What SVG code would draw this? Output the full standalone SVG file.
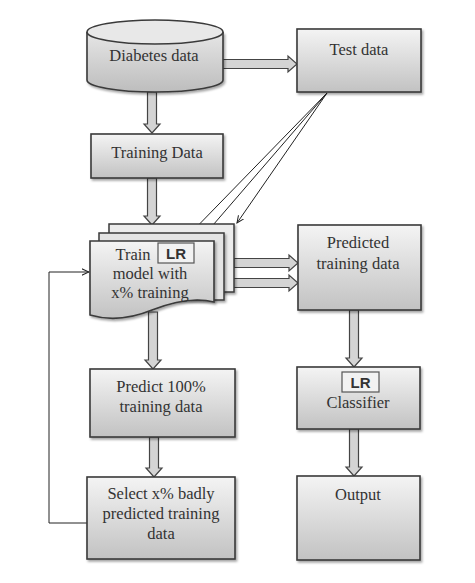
<svg xmlns="http://www.w3.org/2000/svg" width="475" height="583" viewBox="0 0 475 583">
<style>
.box{fill:url(#g);stroke:#3a3a3a;stroke-width:1.6}
.lr{fill:#f2f2f2;stroke:#555;stroke-width:1.2}
.t{font-family:"Liberation Serif",serif;font-size:16.5px;fill:#333;text-anchor:middle}
.lrt{font-family:"Liberation Sans",sans-serif;font-size:15px;font-weight:bold;fill:#333;text-anchor:middle}
.blk{fill:#d4d4d4;stroke:#444;stroke-width:1.2}
.thin{fill:none;stroke:#222;stroke-width:1}
</style>
<defs>
<linearGradient id="g" x1="0" y1="0" x2="0" y2="1">
<stop offset="0" stop-color="#f4f4f4"/>
<stop offset="1" stop-color="#c2c2c2"/>
</linearGradient>
<linearGradient id="gc" x1="0" y1="0" x2="0" y2="1">
<stop offset="0" stop-color="#e6e6e6"/>
<stop offset="1" stop-color="#bdbdbd"/>
</linearGradient>
<marker id="a" viewBox="0 0 10 10" refX="9" refY="5" markerWidth="8" markerHeight="8" orient="auto" markerUnits="userSpaceOnUse">
<path d="M0,1 L9,5 L0,9" fill="none" stroke="#222" stroke-width="1.3"/>
</marker>
<filter id="sh" x="-10%" y="-10%" width="130%" height="130%">
<feDropShadow dx="1.5" dy="2" stdDeviation="1" flood-color="#000" flood-opacity="0.35"/>
</filter>
</defs>

<g id="connectors">
<path class="blk" d="M147.5,92 H156.5 V124 H160 L152,133 L144,124 H147.5 Z"/>
<path class="blk" d="M147.5,178 H156.5 V216 H160 L152,225 L144,216 H147.5 Z"/>
<path class="blk" d="M148.5,312 H157.5 V360 H161 L153,369 L145,360 H148.5 Z"/>
<path class="blk" d="M149.5,437 H158.5 V468 H162 L154,477 L146,468 H149.5 Z"/>
<path class="blk" d="M349.5,310 H358.5 V358 H362 L354,367 L346,358 H349.5 Z"/>
<path class="blk" d="M349.5,429 H358.5 V467 H362 L354,476 L346,467 H349.5 Z"/>
<path class="blk" d="M222,59.5 H288 V56 L297,64 L288,72 V68.5 H222 Z"/>
<path class="blk" d="M234,258.5 H289 V255 L298,263 L289,271 V267.5 H234 Z"/>
<path class="blk" d="M223,278.5 H289 V275 L298,283 L289,291 V287.5 H223 Z"/>
<path class="thin" d="M327,93 L183,241" marker-end="url(#a)"/>
<path class="thin" d="M327,93 L207,232" marker-end="url(#a)"/>
<path class="thin" d="M327,93 L237,223" marker-end="url(#a)"/>
<path class="thin" d="M87,523 H49 V272 H89" marker-end="url(#a)"/>
</g>

<g id="diabetes">
<path d="M87,32 V80 A68,12 0 0 0 223,80 V32" fill="url(#gc)" stroke="#3a3a3a" stroke-width="1.6" filter="url(#sh)"/>
<ellipse cx="155" cy="32" rx="68" ry="12" fill="#e8e8e8" stroke="#3a3a3a" stroke-width="1.6"/>
<text class="t" x="154" y="61">Diabetes data</text>
</g>

<g id="test">
<rect class="box" x="297" y="29" width="124" height="63" filter="url(#sh)"/>
<text class="t" x="359" y="55">Test data</text>
</g>

<g id="training">
<rect class="box" x="91" y="134" width="132" height="44" filter="url(#sh)"/>
<text class="t" x="157" y="158">Training Data</text>
</g>

<g id="trainmodel">
<rect x="109" y="224" width="125" height="68" fill="#ececec" stroke="#3a3a3a" stroke-width="1.5" filter="url(#sh)"/>
<rect x="99" y="233" width="125" height="67" fill="#e4e4e4" stroke="#3a3a3a" stroke-width="1.5" filter="url(#sh)"/>
<path class="box" d="M90,241 H214 V302 C195,297 175,301 152,310 C130,319 110,321 90,315 Z" filter="url(#sh)"/>
<rect class="lr" x="158" y="243" width="36" height="20"/>
<text class="lrt" x="176" y="259">LR</text>
<text class="t" x="133" y="260">Train</text>
<text class="t" x="150" y="279">model with</text>
<text class="t" x="150" y="298">x% training</text>
</g>

<g id="predicted">
<rect class="box" x="298" y="225" width="123" height="85" filter="url(#sh)"/>
<text class="t" x="358" y="248">Predicted</text>
<text class="t" x="358" y="269">training data</text>
</g>

<g id="predict100">
<rect class="box" x="90" y="369" width="145" height="68" filter="url(#sh)"/>
<text class="t" x="161" y="392">Predict 100%</text>
<text class="t" x="161" y="412">training data</text>
</g>

<g id="select">
<rect class="box" x="87" y="477" width="148" height="82" filter="url(#sh)"/>
<text class="t" x="161" y="499">Select x% badly</text>
<text class="t" x="161" y="519">predicted training</text>
<text class="t" x="161" y="539">data</text>
</g>

<g id="classifier">
<rect class="box" x="297" y="367" width="123" height="62" filter="url(#sh)"/>
<rect class="lr" x="342" y="372" width="37" height="20"/>
<text class="lrt" x="360.5" y="388">LR</text>
<text class="t" x="358" y="408">Classifier</text>
</g>

<g id="output">
<rect class="box" x="297" y="476" width="123" height="84" filter="url(#sh)"/>
<text class="t" x="358" y="500">Output</text>
</g>
</svg>
